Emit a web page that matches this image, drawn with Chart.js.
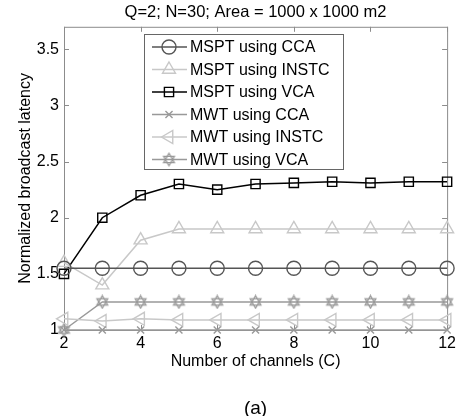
<!DOCTYPE html>
<html>
<head>
<meta charset="utf-8">
<script src="https://cdn.jsdelivr.net/npm/chart.js@4/dist/chart.umd.min.js"></script>
<style>
  html, body { margin: 0; padding: 0; background: #fff; }
  #wrap { width: 460px; height: 416px; }
</style>
</head>
<body>
<div id="wrap"><canvas id="c" width="460" height="416"></canvas></div>
<script>
// values
var channels = [2, 3, 4, 5, 6, 7, 8, 9, 10, 11, 12];
var msptCCA   = [1.55, 1.55, 1.55, 1.55, 1.55, 1.55, 1.55, 1.55, 1.55, 1.55, 1.55];
var msptINSTC = [1.6, 1.4, 1.8, 1.9, 1.9, 1.9, 1.9, 1.9, 1.9, 1.9, 1.9];
var msptVCA   = [1.5, 2.0, 2.2, 2.3, 2.25, 2.3, 2.31, 2.32, 2.31, 2.32, 2.32];
var mwtCCA    = [1, 1, 1, 1, 1, 1, 1, 1, 1, 1, 1];
var mwtINSTC  = [1.1, 1.08, 1.1, 1.09, 1.09, 1.09, 1.09, 1.09, 1.09, 1.09, 1.09];
var mwtVCA    = [1.0, 1.25, 1.25, 1.25, 1.25, 1.25, 1.25, 1.25, 1.25, 1.25, 1.25];
var xTicks = [2, 4, 6, 8, 10, 12];
var yTicks = [1, 1.5, 2, 2.5, 3, 3.5];

var FONT = '"Liberation Sans", Arial, Helvetica, sans-serif';

function pts(arr) {
    return arr.map(function (v, i) { return {x: channels[i], y: v}; });
}

// hexagram marker (two triangles)
function makeStar(color) {
    var cv = document.createElement('canvas');
    cv.width = 15; cv.height = 15;
    var g = cv.getContext('2d');
    g.strokeStyle = color;
    g.lineWidth = 1.3;
    var r = 6.2, cx = 7.5, cy = 7.5;
    [-90, 90].forEach(function (start) {
        g.beginPath();
        for (var k = 0; k < 3; k++) {
            var a = (start + k * 120) * Math.PI / 180;
            var px = cx + r * Math.cos(a), py = cy + r * Math.sin(a);
            if (k === 0) g.moveTo(px, py); else g.lineTo(px, py);
        }
        g.closePath();
        g.stroke();
    });
    return cv;
}

function series(label, arr, color, style, radius, rotation) {
    return {
        label: label,
        data: pts(arr),
        borderColor: color,
        backgroundColor: 'rgba(0,0,0,0)',
        pointBorderColor: color,
        pointBackgroundColor: 'rgba(0,0,0,0)',
        borderWidth: 1.5,
        pointBorderWidth: 1.4,
        pointStyle: style,
        pointRadius: radius,
        pointHoverRadius: radius,
        pointRotation: rotation || 0,
        tension: 0,
        clip: false
    };
}

var datasets = [
    series('MSPT using CCA', msptCCA, '#555555', 'circle', 7),
    series('MSPT using INSTC', msptINSTC, '#c8c8c8', 'triangle', 7.5),
    series('MSPT using VCA', msptVCA, '#000000', 'rect', 6.5),
    series('MWT using CCA', mwtCCA, '#999999', 'crossRot', 5),
    series('MWT using INSTC', mwtINSTC, '#c8c8c8', 'triangle', 7.5, -90),
    series('MWT using VCA', mwtVCA, '#999999', makeStar('#999999'), 7)
];

// box frame with inward ticks on all four sides
var framePlugin = {
    id: 'frame',
    beforeDatasetsDraw: function (chart) {
        var ctx = chart.ctx, a = chart.chartArea;
        var xs = chart.scales.x, ys = chart.scales.y;
        ctx.save();
        ctx.strokeStyle = '#8c8c8c';
        ctx.lineWidth = 1;
        ctx.strokeRect(a.left + 0.5, a.top + 0.5, a.right - a.left, a.bottom - a.top);
        ctx.beginPath();
        xTicks.forEach(function (v) {
            var px = Math.round(xs.getPixelForValue(v)) + 0.5;
            ctx.moveTo(px, a.bottom); ctx.lineTo(px, a.bottom - 5);
            ctx.moveTo(px, a.top); ctx.lineTo(px, a.top + 5);
        });
        yTicks.forEach(function (v) {
            var py = Math.round(ys.getPixelForValue(v)) + 0.5;
            ctx.moveTo(a.left, py); ctx.lineTo(a.left + 5, py);
            ctx.moveTo(a.right, py); ctx.lineTo(a.right - 5, py);
        });
        ctx.stroke();
        ctx.restore();
    }
};

// legend drawn inside the plot, matlab style
var legendPlugin = {
    id: 'boxLegend',
    afterDatasetsDraw: function (chart) {
        var ctx = chart.ctx;
        var bx = 144, by = 34, bw = 199, bh = 135, rowH = 22.5;
        ctx.save();
        ctx.fillStyle = '#fff';
        ctx.fillRect(bx, by, bw, bh);
        ctx.strokeStyle = '#666';
        ctx.lineWidth = 1;
        ctx.strokeRect(bx + 0.5, by + 0.5, bw, bh);
        ctx.font = '16px ' + FONT;
        ctx.textBaseline = 'middle';
        chart.data.datasets.forEach(function (ds, i) {
            var y = by + 13 + i * rowH;
            ctx.strokeStyle = ds.borderColor;
            ctx.lineWidth = ds.borderWidth;
            ctx.beginPath();
            ctx.moveTo(152, y); ctx.lineTo(187, y);
            ctx.stroke();
            ctx.lineWidth = ds.pointBorderWidth;
            ctx.fillStyle = 'rgba(0,0,0,0)';
            Chart.helpers.drawPoint(ctx, {
                pointStyle: ds.pointStyle,
                radius: ds.pointRadius,
                rotation: ds.pointRotation,
                borderWidth: ds.pointBorderWidth
            }, 169, y);
            ctx.fillStyle = '#000';
            ctx.fillText(ds.label, 190, y + 1);
        });
        ctx.restore();
    }
};

new Chart(document.getElementById('c'), {
    type: 'line',
    data: {datasets: datasets},
    options: {
        responsive: false,
        animation: false,
        layout: {padding: {left: 16, right: 11, top: 0, bottom: 0}},
        plugins: {
            legend: {display: false},
            tooltip: {enabled: false},
            title: {
                display: true,
                text: 'Q=2; N=30; Area = 1000 x 1000 m2',
                color: '#000',
                fullSize: false,
                font: {family: FONT, size: 16.5, weight: 'normal'},
                padding: {top: 3, bottom: 4}
            },
            subtitle: {
                display: true,
                position: 'bottom',
                text: '(a)',
                color: '#000',
                fullSize: false,
                font: {family: FONT, size: 19, weight: 'normal', lineHeight: 0.8},
                padding: {top: 15, bottom: 0}
            }
        },
        scales: {
            x: {
                type: 'linear',
                min: 2,
                max: 12,
                grid: {display: false, drawTicks: false},
                border: {display: false},
                afterBuildTicks: function (s) { s.ticks = xTicks.map(function (v) { return {value: v}; }); },
                afterFit: function (s) { s.height = 55.8; },
                ticks: {color: '#000', padding: 4, font: {family: FONT, size: 16}, maxRotation: 0},
                title: {
                    display: true,
                    text: 'Number of channels (C)',
                    color: '#000',
                    font: {family: FONT, size: 16},
                    padding: {top: 0, bottom: 14.2}
                }
            },
            y: {
                min: 1,
                max: 3.7,
                grid: {display: false, drawTicks: false},
                border: {display: false},
                afterBuildTicks: function (s) { s.ticks = yTicks.map(function (v) { return {value: v}; }); },
                afterFit: function (s) { s.width = 48; },
                ticks: {
                    color: '#000',
                    padding: 5,
                    font: {family: FONT, size: 16},
                    callback: function (v) { return String(v); }
                },
                title: {
                    display: true,
                    text: 'Normalized broadcast latency',
                    color: '#000',
                    font: {family: FONT, size: 16},
                    padding: {top: 0, bottom: 0}
                }
            }
        }
    },
    plugins: [framePlugin, legendPlugin]
});
</script>
</body>
</html>
